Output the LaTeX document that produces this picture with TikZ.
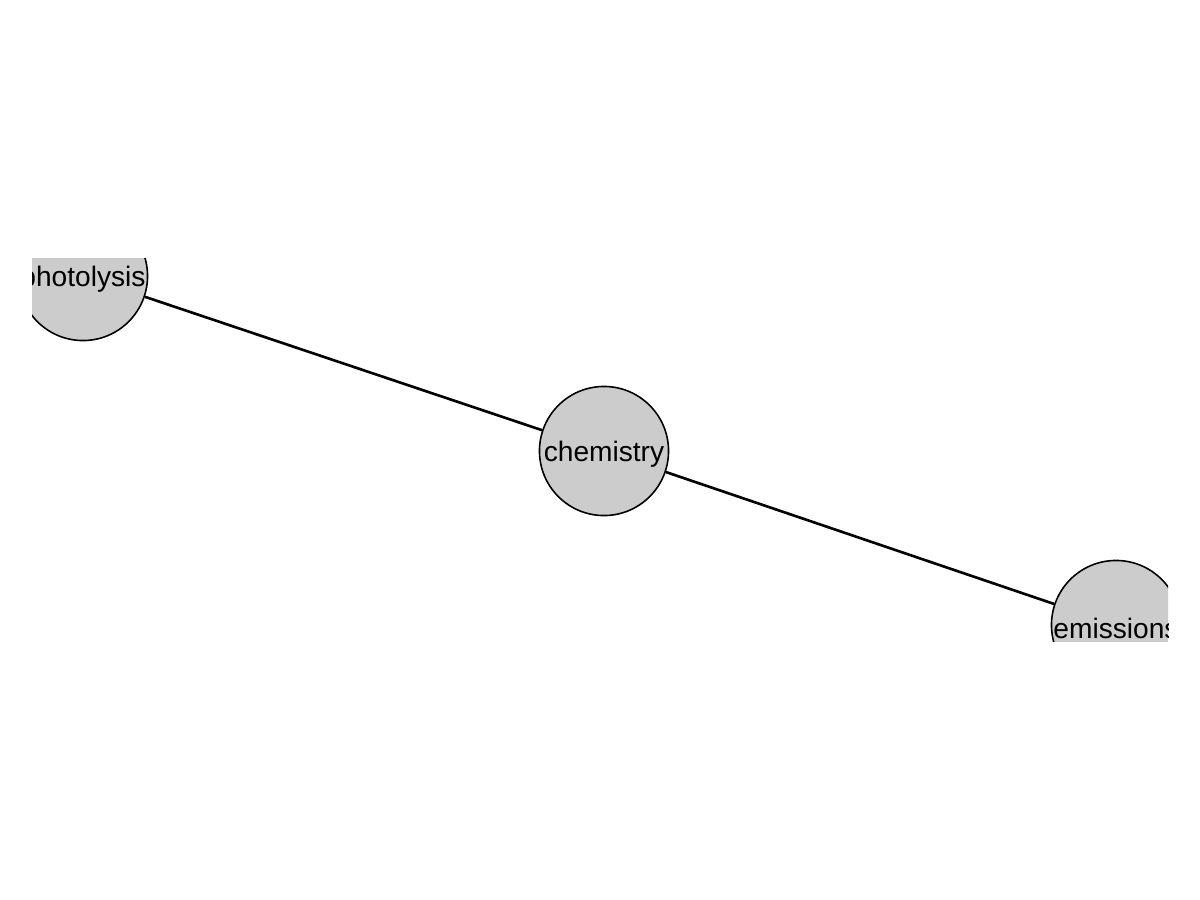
\documentclass[tikz,border=0pt]{standalone}
\usepackage{fontspec}
\setmainfont{Liberation Sans}
\begin{document}
\begin{tikzpicture}[x=0.01cm,y=-0.01cm,
  vertex/.style={circle,draw=black,line width=0.45pt,fill=black!20,minimum size=1.29cm,inner sep=0pt},
  vlabel/.style={font=\fontsize{8}{9.6}\selectfont,yshift=-0.035cm,inner sep=0pt},
  edge/.style={draw=black,line width=0.75pt}]
\useasboundingbox (0,0) rectangle (1200,900);
\begin{scope}
\clip (32,258) rectangle (1168,641);
\node[vertex,label={[vlabel]center:photolysis}] (photolysis) at (83,276) {};
\node[vertex,label={[vlabel]center:chemistry}] (chemistry) at (604,451) {};
\node[vertex,label={[vlabel]center:emissions}] (emissions) at (1116,625) {};
\draw[edge] (photolysis) -- (chemistry);
\draw[edge] (chemistry) -- (emissions);
\end{scope}
\end{tikzpicture}
\end{document}
